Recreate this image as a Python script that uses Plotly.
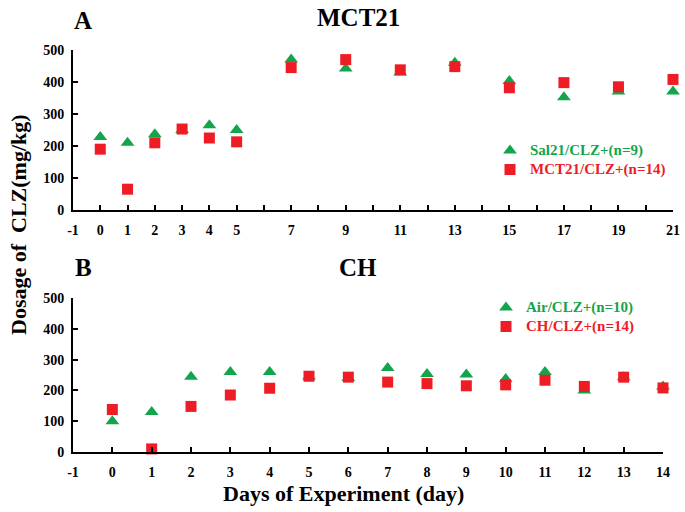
import plotly.graph_objects as go

GREEN = "#13a54b"
RED = "#ee1c24"
FONT = "Liberation Serif"

# Panel A (MCT21)
days_a = [0, 1, 2, 3, 4, 5, 7, 9, 11, 13, 15, 17, 19, 21]
sal21 = [228, 210, 237, 250, 265, 250, 470, 442, 430, 460, 403, 352, 370, 370]
mct21 = [190, 65, 210, 253, 225, 213, 445, 470, 438, 448, 382, 398, 385, 408]
ticks_a = [-1, 0, 1, 2, 3, 4, 5, 7, 9, 11, 13, 15, 17, 19, 21]

# Panel B (CH)
days_b = list(range(0, 15))
air = [100, 130, 244, 260, 260, 245, 240, 273, 253, 252, 237, 260, 200, 243, 213]
ch = [138, 10, 148, 185, 207, 246, 243, 227, 222, 215, 218, 233, 213, 243, 208]
ticks_b = list(range(-1, 15))

y_ticks = [0, 100, 200, 300, 400, 500]

W, H = 685, 512
def px(x):
    return x / W
def py(y):
    return 1 - y / H

fig = go.Figure()

def add(x, y, name, color, symbol, xa, ya, legend, size):
    fig.add_trace(go.Scatter(
        x=x, y=y, mode="markers", xaxis=xa, yaxis=ya, legend=legend,
        name=f'<span style="color:{color};font-size:15px">{name}</span>',
        marker=dict(color=color, symbol=symbol, size=size, line=dict(width=0)),
        cliponaxis=False,
    ))

add(days_a, sal21, "Sal21/CLZ+(n=9)", GREEN, "triangle-up", "x", "y", "legend", 12)
add(days_a, mct21, "MCT21/CLZ+(n=14)", RED, "square", "x", "y", "legend", 11)
add(days_b, air, "Air/CLZ+(n=10)", GREEN, "triangle-up", "x2", "y2", "legend2", 12)
add(days_b, ch, "CH/CLZ+(n=14)", RED, "square", "x2", "y2", "legend2", 11)

tickfont = dict(family=FONT, size=14, color="black", weight="bold")
axcommon = dict(showline=True, linecolor="black", linewidth=2, showgrid=False,
                zeroline=False, ticks="inside", ticklen=5, tickwidth=2,
                tickcolor="black", tickfont=tickfont, automargin=False)

legfont = dict(family=FONT, size=12, weight="bold")

def note(text, x, y, size, angle=0):
    return dict(text=text, x=px(x), y=py(y), xref="paper", yref="paper", showarrow=False,
                xanchor="center", yanchor="middle", textangle=angle,
                font=dict(family=FONT, size=size, weight="bold", color="black"))

fig.update_layout(
    width=W, height=H,
    margin=dict(l=0, r=0, t=0, b=0),
    paper_bgcolor="white", plot_bgcolor="white",
    xaxis=dict(domain=[px(73), px(673)], range=[-1, 21], anchor="y",
               tickvals=ticks_a, ticktext=[str(t) for t in ticks_a],
               ticklabelstandoff=6,
               minor=dict(ticks="inside", dtick=1, tick0=0, ticklen=5, tickwidth=2, tickcolor="black"),
               **axcommon),
    yaxis=dict(domain=[py(210), py(50)], range=[0, 500], anchor="x",
               tickvals=y_ticks, ticklabelstandoff=4, **axcommon),
    xaxis2=dict(domain=[px(73), px(663)], range=[-1, 14], anchor="y2",
                tickvals=ticks_b, ticktext=[str(t) for t in ticks_b],
                ticklabelstandoff=6, **axcommon),
    yaxis2=dict(domain=[py(452), py(298)], range=[0, 500], anchor="x2",
                tickvals=y_ticks, ticklabelstandoff=4, **axcommon),
    legend=dict(x=px(490), y=py(136), xanchor="left", yanchor="top",
                font=legfont, bgcolor="rgba(0,0,0,0)", tracegroupgap=0, itemwidth=30),
    legend2=dict(x=px(486), y=py(293), xanchor="left", yanchor="top",
                 font=legfont, bgcolor="rgba(0,0,0,0)", tracegroupgap=0, itemwidth=30),
    annotations=[
        note("A", 83, 20, 25),
        note("MCT21", 358, 17, 25),
        note("B", 83, 267, 25),
        note("CH", 358, 267, 25),
        note("Dosage of  CLZ(mg/kg)", 18, 225, 22, -90),
        note("Days of Experiment (day)", 343, 493, 22),
    ],
)

fig.write_html("out.html", config={"displayModeBar": False},
               post_script="document.body.style.margin='0';document.body.style.overflow='hidden';")
